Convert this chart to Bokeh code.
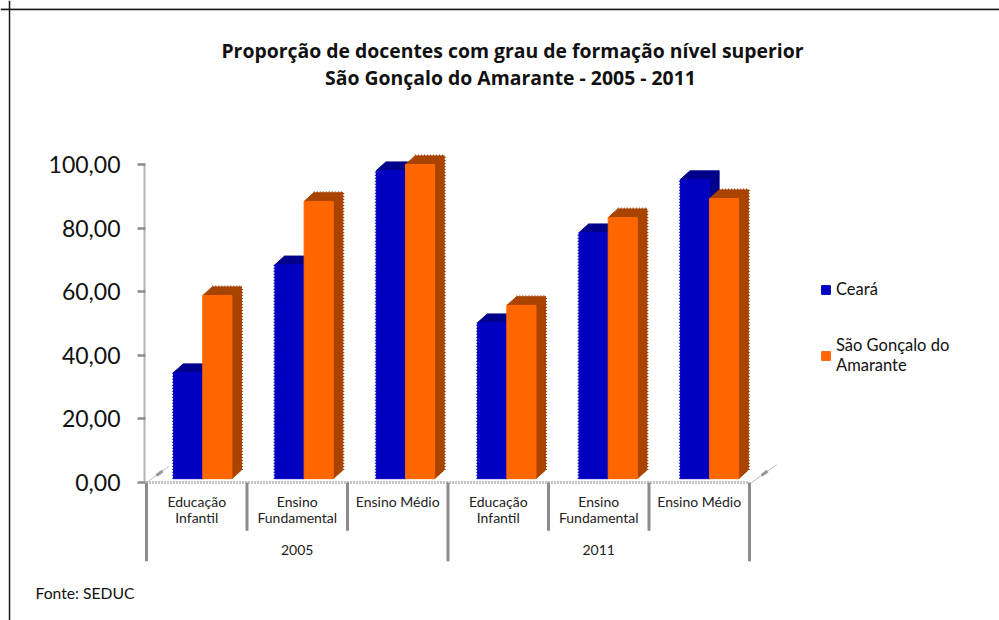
from bokeh.embed import file_html
from bokeh.resources import INLINE
from bokeh.plotting import figure
from bokeh.models import LinearAxis, FixedTicker, Label, Legend, LegendItem, Range1d, Span

years = ["2005", "2011"]
cat_line1 = ["Educação", "Ensino", "Ensino Médio"] * 2
cat_line2 = ["Infantil", "Fundamental", ""] * 2
ceara = [34.6, 68.5, 98.1, 50.3, 78.6, 95.3]
sga = [58.8, 88.4, 100.0, 55.7, 83.3, 89.3]
yticks = [0, 20, 40, 60, 80, 100]
ylabels = ["0,00", "20,00", "40,00", "60,00", "80,00", "100,00"]

BLUE, BLUE_D = "#0000C0", "#00008A"
ORANGE, ORANGE_D = "#FF6600", "#A84300"
GREY = "#8C8C8C"
W, H = 999, 620
DX, DY = 0.095, 2.7     # depth of the 3-D effect in data units
BASE = 1.2              # floor of the front face above the zero line
BAR = 0.29
PERIOD = 1.0085
START = 0.27
FONT = "Lato"

p = figure(width=W, height=H, output_backend="svg", toolbar_location=None,
           x_axis_location=None, y_axis_location=None,
           min_border_left=0, min_border_top=0, min_border_right=0, min_border_bottom=0,
           x_range=Range1d(-1.4527, 8.4876), y_range=Range1d(-43.4, 151.57),
           background_fill_color="white", outline_line_color=None)
p.grid.visible = False

p.add_layout(Span(location=149.05, dimension="width", line_color="#D0D0D0", line_width=1))
p.add_layout(Span(location=148.74, dimension="width", line_color="#1a1a1a", line_width=1.5))
p.add_layout(Span(location=-1.363, dimension="height", line_color="#1a1a1a", line_width=1.5))

xl = [START + i * PERIOD for i in range(6)]
xm = [x + BAR for x in xl]
xr = [x + 2 * BAR for x in xl]

def solid3d(x0, x1, tops, front, dark):
    n = range(len(tops))
    p.patches([[x0[i], x1[i], x1[i] + DX, x0[i] + DX] for i in n],
              [[tops[i], tops[i], tops[i] + DY, tops[i] + DY] for i in n],
              fill_color=dark, line_color=dark)
    p.patches([[x1[i], x1[i] + DX, x1[i] + DX, x1[i]] for i in n],
              [[BASE, BASE + DY, tops[i] + DY, tops[i]] for i in n],
              fill_color=dark, line_color=dark)
    return p.vbar(x=[(x0[i] + x1[i]) / 2 for i in n], width=BAR, bottom=BASE, top=tops,
                  fill_color=front, line_color=front)

r1 = solid3d(xl, xm, ceara, BLUE, BLUE_D)
r2 = solid3d(xm, xr, sga, ORANGE, ORANGE_D)

# serrated outer edges
p.segment(xl, [BASE] * 6, xl, ceara, line_color=BLUE, line_width=3, line_dash="1 2")
p.segment([x + DX for x in xr], [BASE + DY] * 6, [x + DX for x in xr], [v + DY for v in sga],
          line_color=ORANGE_D, line_width=3, line_dash="1 2")
p.segment([x + DX for x in xm], [v + DY for v in sga], [x + DX for x in xr], [v + DY for v in sga],
          line_color=ORANGE_D, line_width=3, line_dash="1 2")

# separators of the two-level category axis
seps = [0, 1, 2, 3, 4, 5, 6]
lows = [-24.8, -15.2, -15.2, -24.8, -15.2, -15.2, -24.8]
p.segment(seps, [0] * 7, seps, lows, line_color=GREY, line_width=3)
# floor stubs
p.segment([0, 6.02], [0, 0], [0.22, 6.27], [5, 5.5], line_color="#BBBBBB", line_width=1)
p.segment([0.1, 6.12], [2.2, 2.2], [0.16, 6.18], [3.6, 3.6], line_color="#999999", line_width=3)

yax = LinearAxis(fixed_location=-0.02, bounds=(0, 100), ticker=FixedTicker(ticks=yticks),
                 major_label_overrides=dict(zip(yticks, ylabels)))
yax.axis_line_color = "#B4B4B4"
yax.axis_line_width = 2
yax.major_tick_line_color = GREY
yax.major_tick_line_width = 2.5
yax.major_tick_out = 7
yax.major_tick_in = 1
yax.minor_tick_line_color = None
yax.major_label_text_font = FONT
yax.major_label_text_font_size = "23px"
yax.major_label_text_color = "#111111"
yax.major_label_standoff = 17
p.add_layout(yax, "left")

cat_x = [i + 0.5 for i in range(6)]
def label_axis(ticks, labels, standoff, line=False):
    ax = LinearAxis(fixed_location=0, bounds=(0, 6), ticker=FixedTicker(ticks=ticks),
                    major_label_overrides=dict(zip(ticks, labels)))
    ax.axis_line_color = GREY if line else None
    ax.axis_line_width = 3
    ax.axis_line_dash = "1 2"
    ax.major_tick_line_color = None
    ax.minor_tick_line_color = None
    ax.major_label_text_font = FONT
    ax.major_label_text_font_size = "14px"
    ax.major_label_text_color = "#222222"
    ax.major_label_standoff = standoff
    p.add_layout(ax, "below")

label_axis(cat_x, cat_line1, 5, True)
label_axis(cat_x[:2] + cat_x[3:5], cat_line2[:2] + cat_line2[3:5], 21)
label_axis([1.5, 4.5], years, 57)

def text(s, x, y, size, bold=False, align="left"):
    p.add_layout(Label(x=x, y=H - y, x_units="screen", y_units="screen", text=s,
                       text_font=FONT if not bold else "Open Sans", text_font_size=size, text_align=align,
                       text_baseline="middle", text_color="#111111",
                       text_font_style="bold" if bold else "normal"))

text("Proporção de docentes com grau de formação nível superior", 512, 50, "19.4px", True, "center")
text("São Gonçalo do Amarante - 2005 - 2011", 510, 77, "19.4px", True, "center")
text("Fonte: SEDUC", 35, 592, "15.7px")

leg = Legend(items=[LegendItem(label="Ceará", renderers=[r1]),
                    LegendItem(label="São Gonçalo do\nAmarante", renderers=[r2])],
             location=(820, 245), border_line_color=None, background_fill_alpha=0,
             glyph_width=11, glyph_height=11, spacing=36, padding=0, margin=0,
             label_text_font=FONT, label_text_font_size="16.5px", label_text_color="#111111",
             label_standoff=5)
p.add_layout(leg)

open("out.html", "w").write(file_html(p, INLINE))
